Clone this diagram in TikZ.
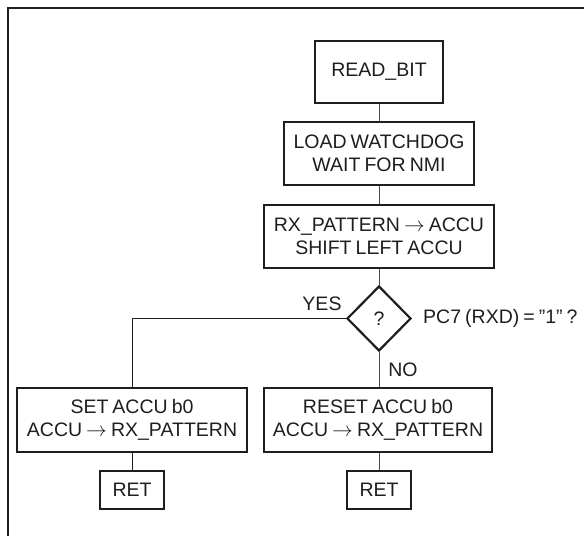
\documentclass[tikz,border=0pt]{standalone}
\usepackage{fontspec}
\setmainfont{Liberation Sans}[WordSpace=0.75]
\usetikzlibrary{shapes.geometric}
\definecolor{ink}{HTML}{1E1E1E}
\definecolor{wire}{HTML}{4A4A4A}
\tikzset{
  stepbox/.style={draw=ink, line width=2.2pt, fill=white, inner sep=0pt, align=center,
    font=\fontsize{19.5}{23}\selectfont, text=ink},
  decbox/.style={draw=ink, line width=2.2pt, diamond, shape aspect=1, inner sep=0pt,
    minimum width=64pt, minimum height=65pt, font=\fontsize{19.5}{23}\selectfont, text=ink},
  wirel/.style={draw=wire, line width=1pt},
  lbl/.style={inner sep=0pt, font=\fontsize{19.5}{23}\selectfont, text=ink},
}
\begin{document}
\begin{tikzpicture}[x=1pt,y=-1pt]
\useasboundingbox (0,0) rectangle (584,536);
\draw[ink, line width=1.6pt] (584,8) -- (8,8) -- (8,536);

\node[stepbox, minimum width=128pt, minimum height=62pt] (rb) at (379,72) {READ\_BIT};
\node[stepbox, minimum width=190pt, minimum height=63pt] (lw) at (379,153.5) {LOAD WATCHDOG\\WAIT FOR NMI};
\node[stepbox, minimum width=230pt, minimum height=63pt] (rx) at (379,236.5) {RX\_PATTERN $\rightarrow$ ACCU\\SHIFT LEFT ACCU};
\node[decbox] (q) at (379,318.5) {?};
\node[stepbox, minimum width=230pt, minimum height=64pt] (set) at (132,420) {SET ACCU b0\\ACCU $\rightarrow$ RX\_PATTERN};
\node[stepbox, minimum width=228pt, minimum height=64pt] (rst) at (378,420) {RESET ACCU b0\\ACCU $\rightarrow$ RX\_PATTERN};
\node[stepbox, minimum width=64pt, minimum height=38pt] (ret1) at (132,490) {RET};
\node[stepbox, minimum width=64pt, minimum height=38pt] (ret2) at (379,490) {RET};

\node[lbl] (yes) at (322,304) {YES};
\node[lbl] (no) at (403,370) {NO};
\node[lbl, anchor=west] (cond) at (423,318.5) {PC7 (RXD) = ”1” ?};

\draw[wirel] (rb.south) -- (lw.north);
\draw[wirel] (lw.south) -- (rx.north);
\draw[wirel] (rx.south) -- (q.north);
\draw[wirel, draw=ink] (q.west) -| (set.north);
\draw[wirel] (q.south) -- (q.south |- rst.north);
\draw[wirel, draw=ink] (set.south) -- (ret1.north);
\draw[wirel] (rst.south -| ret2.north) -- (ret2.north);
\end{tikzpicture}
\end{document}
